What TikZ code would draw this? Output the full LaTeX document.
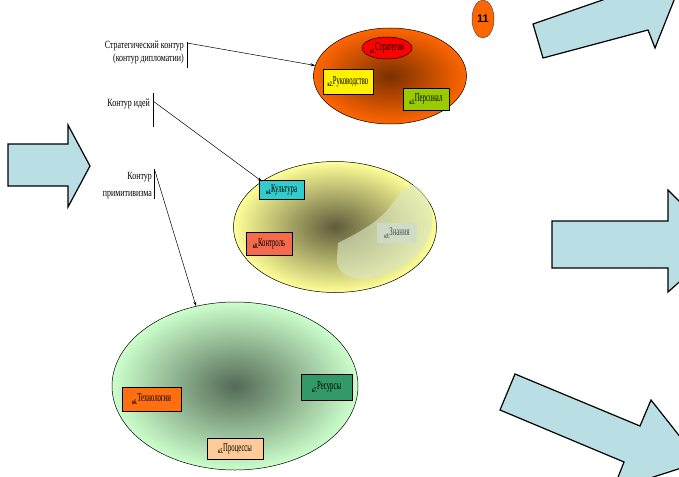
\documentclass[tikz,border=0pt]{standalone}
\usepackage{fontspec}
\setmainfont{Liberation Serif}
\newfontfamily\boxfont[FakeStretch=0.56]{Liberation Serif}
\newfontfamily\labfont[FakeStretch=0.72]{Liberation Serif}
\newfontfamily\numfont{Liberation Sans}
\usetikzlibrary{shapes.geometric,arrows.meta}
\definecolor{arrowc}{HTML}{B9DFE4}
\definecolor{orangeE}{HTML}{FF6600}
\definecolor{orangeD}{HTML}{7A3000}
\definecolor{yellowE}{HTML}{FFFF99}
\definecolor{yellowD}{HTML}{5E5C3A}
\definecolor{greenE}{HTML}{CCFFCC}
\definecolor{greenD}{HTML}{546A56}
\definecolor{blobc}{HTML}{DCE8C4}
\definecolor{znanc}{HTML}{D0DCCF}
\definecolor{persc}{HTML}{99CC00}
\definecolor{kultc}{HTML}{33CCCC}
\definecolor{kontrc}{HTML}{F46A4C}
\definecolor{techc}{HTML}{FF6F0F}
\definecolor{resc}{HTML}{339966}
\definecolor{procc}{HTML}{FFCC99}
\newcommand{\kb}[2]{{\fontsize{7}{7}\selectfont\bfseries #1}\raisebox{2.5pt}{#2}}
\begin{document}
\begin{tikzpicture}[x=1pt,y=-1pt,
  barrow/.style={draw=black, line width=1.2pt, fill=arrowc, line join=miter},
  bigell/.style={ellipse, draw=black, line width=0.5pt, inner sep=0pt},
  kbox/.style={draw=black, line width=0.7pt, inner sep=0pt, font=\boxfont\fontsize{12}{12}\selectfont},
  lab/.style={anchor=east, align=right, inner sep=0pt, font=\labfont\fontsize{11}{13}\selectfont},
  conn/.style={line width=0.5pt, -{Stealth[length=4.5pt,width=3pt]}},
  vline/.style={line width=0.6pt}]
\useasboundingbox (0,0) rectangle (679,476);
\clip (0,0) rectangle (679,476);
\fill[white] (0,0) rectangle (679,476);

% block arrows
\draw[barrow] (8,144) -- (68,144) -- (68,125) -- (90,166) -- (68,207) -- (68,186) -- (8,186) -- cycle;
\draw[barrow] (552,221) -- (668,221) -- (668,190) -- (722,244) -- (668,292) -- (668,268) -- (552,268) -- cycle;
\draw[barrow] (533,24) -- (620,-6) -- (612,-30) -- (690,-40) -- (655,48) -- (648,30) -- (543,58) -- cycle;
\draw[barrow] (515,374) -- (640,426) -- (651,400) -- (700,462) -- (613,490) -- (624,462) -- (500,410) -- cycle;

% number
\node[ellipse, draw=black!70, line width=0.5pt, fill=orangeE, minimum width=22pt, minimum height=38pt, inner sep=0pt,
  font=\numfont\fontsize{11}{11}\selectfont\bfseries] (num) at (483,19) {11};

% top ellipse
\node[bigell, minimum width=153pt, minimum height=96pt, inner color=orangeD, outer color=orangeE] (top) at (390,76) {};
\node[ellipse, draw=black, line width=0.5pt, fill=red, minimum width=50pt, minimum height=22pt, inner sep=0pt,
  font=\boxfont\fontsize{12}{12}\selectfont] (strat) at (387,48) {\kb{к1.}{Стратегия}};
\node[kbox, fill=yellow, minimum width=50pt, minimum height=25pt] (ruk) at (348,81.5) {\kb{к2.}{Руководство}};
\node[kbox, fill=persc, minimum width=46pt, minimum height=22pt] (pers) at (426,99) {\kb{к3.}{Персонал}};

% middle ellipse
\node[bigell, minimum width=203pt, minimum height=131pt, inner color=yellowD, outer color=yellowE] (mid) at (335,227) {};
\fill[blobc, opacity=0.62] (338,243) .. controls (360,232) and (378,222) .. (390,207)
  .. controls (398,196) and (405,186) .. (413,185)
  .. controls (422,186) and (430,200) .. (432,215)
  .. controls (434,232) and (424,250) .. (412,259)
  .. controls (398,270) and (380,279) .. (362,279)
  .. controls (345,279) and (335,268) .. (337,258) -- cycle;
\node[kbox, fill=kultc, minimum width=45pt, minimum height=19pt] (kult) at (281.5,189.5) {\kb{к4.}{Культура}};
\node[kbox, fill=kontrc, minimum width=46pt, minimum height=23pt] (kontr) at (269,243.5) {\kb{к8.}{Контроль}};
\node[kbox, draw=none, fill=znanc, fill opacity=0.8, text opacity=1, text=black!70, minimum width=40pt, minimum height=20pt] (znan) at (397,233) {\kb{к9.}{Знания}};

% bottom ellipse
\node[bigell, minimum width=246pt, minimum height=168pt, inner color=greenD, outer color=greenE] (bot) at (235,386) {};
\node[kbox, fill=techc, minimum width=59pt, minimum height=24pt] (tech) at (151.5,399) {\kb{к6.}{Технологии}};
\node[kbox, fill=resc, minimum width=51pt, minimum height=26pt] (res) at (326.5,387) {\kb{к7.}{Ресурсы}};
\node[kbox, fill=procc, minimum width=56pt, minimum height=21pt] (proc) at (235,448.5) {\kb{к5.}{Процессы}};

% labels
\node[lab] (l1) at (184,52) {Стратегический контур\\(контур дипломатии)};
\node[lab] (l2) at (150,104) {Контур идей};
\node[lab, font=\labfont\fontsize{11}{17}\selectfont] (l3) at (152,186) {Контур\\примитивизма};

\coordinate (v1a) at (187,42); \coordinate (v1b) at (187,68);
\coordinate (v2a) at (153,93); \coordinate (v2b) at (153,127);
\coordinate (v3a) at (154,169); \coordinate (v3b) at (154,199);
\draw[vline] (v1a) -- (v1b);
\draw[vline] (v2a) -- (v2b);
\draw[vline] (v3a) -- (v3b);

\coordinate (s1) at (187,43);
\coordinate (s2) at (153,101);
\coordinate (s3) at (155,171);
\draw[conn] (s1) -- (top.172);
\draw[conn] (s2) -- (mid.148);
\draw[conn] (s3) -- (bot.116);
\end{tikzpicture}
\end{document}
